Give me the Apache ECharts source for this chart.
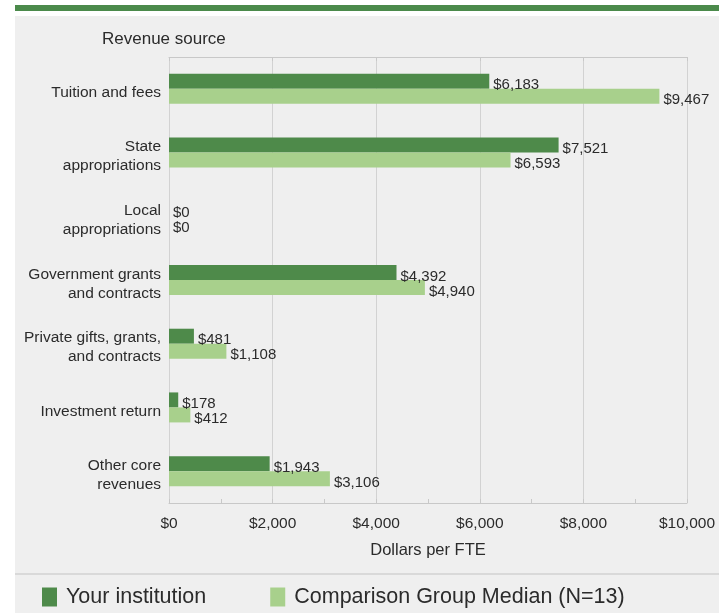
<!DOCTYPE html>
<html>
<head>
<meta charset="utf-8">
<script src="https://cdn.jsdelivr.net/npm/echarts@6/dist/echarts.min.js"></script>
<style>
html,body{margin:0;padding:0;background:#fff;}
#chart{width:719px;height:613px;}
</style>
</head>
<body>
<div id="chart"></div>
<script>
const categories = ["Tuition and fees", "State\nappropriations", "Local\nappropriations", "Government grants\nand contracts", "Private gifts, grants,\nand contracts", "Investment return", "Other core\nrevenues"];
const yourInstitution = [6183, 7521, 0, 4392, 481, 178, 1943];
const comparisonMedian = [9467, 6593, 0, 4940, 1108, 412, 3106];
const seriesNames = ["Your institution", "Comparison Group Median (N=13)"];
const xTicks = [0, 2000, 4000, 6000, 8000, 10000];

const FONT = "'Liberation Sans', Arial, sans-serif";
const TXT = '#2b2b2b';
const DARK = '#4e8a4a';
const LIGHT = '#a8d08c';
const fmt = v => '$' + Math.round(v).toLocaleString('en-US');

const chart = echarts.init(document.getElementById('chart'), null, {renderer: 'canvas'});
const labelCommon = {
  show: true, position: 'right', distance: 4, offset: [0, 4],
  color: TXT, fontFamily: FONT, fontSize: 15,
  formatter: p => fmt(p.value)
};
chart.setOption({
  animation: false,
  backgroundColor: '#ffffff',
  graphic: [
    {type: 'rect', z: -10, shape: {x: 15, y: 16, width: 704, height: 597}, style: {fill: '#efefef'}},
    {type: 'rect', z: -9, shape: {x: 15, y: 5, width: 704, height: 6}, style: {fill: '#4b8a4b'}},
    {type: 'line', z: -8, shape: {x1: 15, y1: 574, x2: 719, y2: 574}, style: {stroke: '#d9d9d9', lineWidth: 2}},
    {type: 'text', left: 102, top: 31, style: {text: 'Revenue source', font: '17px ' + FONT, fill: TXT}}
  ],
  grid: [
    {left: 169, right: 32, top: 57, bottom: 110, containLabel: false},
    {left: 169, right: 32, top: 61, bottom: 106, containLabel: false}
  ],
  legend: {
    left: 37, top: 581, itemWidth: 15, itemHeight: 19, itemGap: 64,
    icon: 'rect',
    textStyle: {fontSize: 21.5, color: TXT, fontFamily: FONT, padding: [0, 0, 0, 4]},
    data: seriesNames
  },
  xAxis: [
    {
      type: 'value', gridIndex: 0, position: 'bottom', min: xTicks[0], max: xTicks[xTicks.length - 1], interval: 2000,
      axisLine: {show: true, lineStyle: {color: '#c8c8c8'}},
      axisTick: {show: true, inside: true, length: 4, lineStyle: {color: '#c8c8c8'}},
      minorTick: {show: true, splitNumber: 2, length: 4, lineStyle: {color: '#c8c8c8'}},
      splitLine: {show: true, lineStyle: {color: '#d2d2d2', width: 1}},
      axisLabel: {color: TXT, fontFamily: FONT, fontSize: 15.5, margin: 13, formatter: v => fmt(v)},
      name: 'Dollars per FTE', nameLocation: 'middle', nameGap: 39,
      nameTextStyle: {color: TXT, fontFamily: FONT, fontSize: 16.5}
    },
    {
      type: 'value', gridIndex: 0, position: 'top', min: xTicks[0], max: xTicks[xTicks.length - 1], interval: 2000,
      axisLine: {show: true, lineStyle: {color: '#c8c8c8'}},
      axisTick: {show: true, inside: true, length: 4, lineStyle: {color: '#c8c8c8'}},
      splitLine: {show: false}, axisLabel: {show: false}
    },
    {
      type: 'value', gridIndex: 1, show: false, min: xTicks[0], max: xTicks[xTicks.length - 1]
    }
  ],
  yAxis: [
    {
      type: 'category', gridIndex: 0, inverse: true, data: categories,
      axisLine: {show: false}, axisTick: {show: false}, axisLabel: {show: false}
    },
    {
      type: 'category', gridIndex: 1, inverse: true, data: categories,
      axisLine: {show: false}, axisTick: {show: false}, splitLine: {show: false},
      axisLabel: {color: TXT, fontFamily: FONT, fontSize: 15.5, margin: 8, lineHeight: 19, align: 'right'}
    }
  ],
  series: [
    {
      name: seriesNames[0], type: 'bar', xAxisIndex: 0, yAxisIndex: 0, data: yourInstitution, barWidth: 15, barGap: '0%',
      itemStyle: {color: DARK}, label: labelCommon
    },
    {
      name: seriesNames[1], type: 'bar', xAxisIndex: 0, yAxisIndex: 0, data: comparisonMedian, barWidth: 15, barGap: '0%',
      itemStyle: {color: LIGHT}, label: labelCommon
    }
  ]
});
</script>
</body>
</html>
